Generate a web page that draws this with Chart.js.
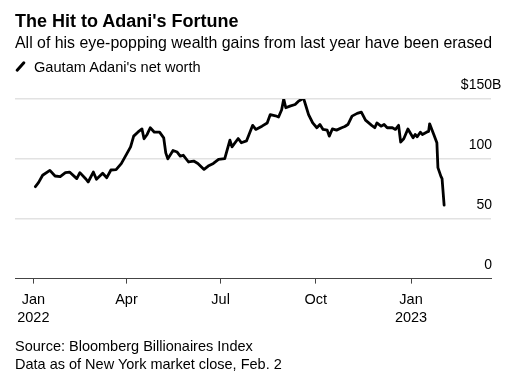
<!DOCTYPE html>
<html>
<head>
<meta charset="utf-8">
<script src="https://cdn.jsdelivr.net/npm/chart.js@4"></script>
<style>
  body { margin: 0; background: #fff; font-family: "Liberation Sans", Arial, sans-serif; color: #000; }
  #wrap { position: relative; width: 516px; height: 380px; overflow: hidden; }
  #chart { position: absolute; left: 0; top: 0; }
  .txt { position: absolute; left: 15px; white-space: nowrap; }
  #title { top: 10px; font-size: 18px; line-height: 22px; font-weight: bold; }
  #subtitle { top: 34px; font-size: 15.9px; line-height: 18px; }
  #legend { top: 58px; font-size: 14.6px; line-height: 18px; padding-left: 19px; }
  #legend .mark { position: absolute; left: 4px; top: 2px; width: 3px; height: 13px; background: #000; border-radius: 1.5px; transform: rotate(42deg); }
  #source { top: 337px; font-size: 14.5px; line-height: 18px; }
</style>
</head>
<body>
<div id="wrap">
  <canvas id="chart" width="516" height="380"></canvas>
  <div class="txt" id="title">The Hit to Adani's Fortune</div>
  <div class="txt" id="subtitle">All of his eye-popping wealth gains from last year have been erased</div>
  <div class="txt" id="legend"><span class="mark"></span>Gautam Adani's net worth</div>
  <div class="txt" id="source">Source: Bloomberg Billionaires Index<br>Data as of New York market close, Feb. 2</div>
</div>
<script>
// net worth, $ billions
const dates = [
  '2022-01-03','2022-01-06','2022-01-10','2022-01-17','2022-01-22','2022-01-27','2022-02-01','2022-02-05',
  '2022-02-12','2022-02-15','2022-02-21','2022-02-23','2022-02-28','2022-03-03','2022-03-09','2022-03-13',
  '2022-03-17','2022-03-22','2022-03-27','2022-04-01','2022-04-05','2022-04-08','2022-04-12','2022-04-16',
  '2022-04-18','2022-04-21','2022-04-24','2022-04-28','2022-05-03','2022-05-07','2022-05-09','2022-05-11',
  '2022-05-16','2022-05-20','2022-05-23','2022-05-26','2022-05-31','2022-06-05','2022-06-09','2022-06-15',
  '2022-06-19','2022-06-24','2022-06-29','2022-07-05','2022-07-10','2022-07-12','2022-07-18','2022-07-21',
  '2022-07-26','2022-08-01','2022-08-04','2022-08-10','2022-08-15','2022-08-18','2022-08-23','2022-08-26',
  '2022-08-29','2022-08-31','2022-09-02','2022-09-06','2022-09-11','2022-09-14','2022-09-17','2022-09-19',
  '2022-09-21','2022-09-24','2022-09-28','2022-10-02','2022-10-05','2022-10-08','2022-10-12','2022-10-14',
  '2022-10-17','2022-10-21','2022-10-26','2022-10-29','2022-11-01','2022-11-05','2022-11-10','2022-11-14',
  '2022-11-18','2022-11-24','2022-11-27','2022-11-29','2022-12-03','2022-12-06','2022-12-09','2022-12-14',
  '2022-12-17','2022-12-20','2022-12-22','2022-12-25','2022-12-29','2023-01-03','2023-01-05','2023-01-07',
  '2023-01-10','2023-01-12','2023-01-16','2023-01-18','2023-01-19','2023-01-23','2023-01-26','2023-01-27',
  '2023-01-30','2023-01-31','2023-02-02'
];
const netWorth = [
  76.8, 80.2, 86.3, 90.4, 85.7, 85.2, 88.5, 89,
  83.5, 88.5, 83, 80.7, 89, 83, 88, 84.3,
  90.7, 91, 96, 103.8, 110, 119, 122.3, 125,
  116.8, 120.4, 126, 122.3, 122.3, 117.6, 105, 100,
  107, 105.7, 102.3, 103, 97.4, 98.2, 96.2, 91.2,
  94, 96.2, 99.6, 100.2, 115.7, 110, 117, 113.5,
  115, 128, 124.6, 127.3, 130, 137, 136, 135,
  141, 150, 142.7, 144, 145.4, 148, 149.6, 151,
  145.4, 137, 130, 126, 128.7, 124.6, 124, 119,
  125, 124, 126, 127, 128.7, 135.7, 138, 139,
  132.3, 128, 126, 130, 127.3, 128.7, 126, 126,
  124.6, 128, 114, 116.8, 125, 117.6, 120.4, 118.5,
  122.3, 120.4, 122.3, 123, 129.3, 120.4, 113.5, 92.7,
  85.2, 83.5, 61.3
];

const xTickDates = ['2022-01-01', '2022-04-01', '2022-07-01', '2022-10-01', '2023-01-01'];
const xTickLabels = [['Jan', '2022'], 'Apr', 'Jul', 'Oct', ['Jan', '2023']];
const yTickValues = [0, 50, 100, 150];
const yTickLabels = ['0', '50', '100', '150'];
const yPrefix = '$';
const ySuffix = 'B';

const dayOf = s => {
  const [y, m, d] = s.split('-').map(Number);
  return (Date.UTC(y, m - 1, d) - Date.UTC(2022, 0, 1)) / 86400000;
};
const points = dates.map((d, i) => ({ x: dayOf(d), y: netWorth[i] }));
const xTickDays = xTickDates.map(dayOf);

// right-side value labels sitting above their gridlines, unit only on the top one
const yLabels = {
  id: 'yLabels',
  afterDraw(chart) {
    const { ctx, chartArea, scales } = chart;
    ctx.save();
    ctx.font = '14px "Liberation Sans", Arial, sans-serif';
    ctx.fillStyle = '#000';
    ctx.textBaseline = 'alphabetic';
    yTickValues.forEach((v, i) => {
      const y = scales.y.getPixelForValue(v) - 10;
      const x = chartArea.right + 1;
      const num = yTickLabels[i];
      ctx.textAlign = 'right';
      ctx.fillText(num, x, y);
      if (i === yTickValues.length - 1) {
        ctx.fillText(yPrefix, x - ctx.measureText(num).width, y);
        ctx.textAlign = 'left';
        ctx.fillText(ySuffix, x, y);
      }
    });
    ctx.restore();
  }
};

new Chart(document.getElementById('chart').getContext('2d'), {
  type: 'line',
  data: {
    datasets: [{
      label: "Gautam Adani's net worth",
      data: points,
      borderColor: '#000',
      borderWidth: 2.8,
      borderJoinStyle: 'round',
      borderCapStyle: 'round',
      pointRadius: 0,
      tension: 0
    }]
  },
  options: {
    responsive: false,
    animation: false,
    layout: { padding: { left: 15, right: 25, top: 99, bottom: 46 } },
    plugins: { legend: { display: false }, tooltip: { enabled: false } },
    scales: {
      x: {
        type: 'linear',
        min: -17.7,
        max: 442.3,
        afterBuildTicks: scale => { scale.ticks = xTickDays.map(v => ({ value: v })); },
        ticks: {
          autoSkip: false,
          maxRotation: 0,
          padding: 7.5,
          color: '#000',
          font: { family: '"Liberation Sans", Arial, sans-serif', size: 14.5, lineHeight: 1.22 },
          callback: (v, i) => xTickLabels[i]
        },
        grid: { drawOnChartArea: false, drawTicks: true, tickLength: 5, color: '#444', lineWidth: 1 },
        border: { display: true, color: '#444', width: 1 }
      },
      y: {
        position: 'right',
        min: 0,
        max: 150,
        afterBuildTicks: scale => { scale.ticks = yTickValues.map(v => ({ value: v })); },
        ticks: { display: false },
        grid: {
          drawTicks: false,
          lineWidth: 1.5,
          color: ctx => ctx.tick && ctx.tick.value === 0 ? 'rgba(0,0,0,0)' : '#e2e2e2'
        },
        border: { display: false }
      }
    }
  },
  plugins: [yLabels]
});
</script>
</body>
</html>
